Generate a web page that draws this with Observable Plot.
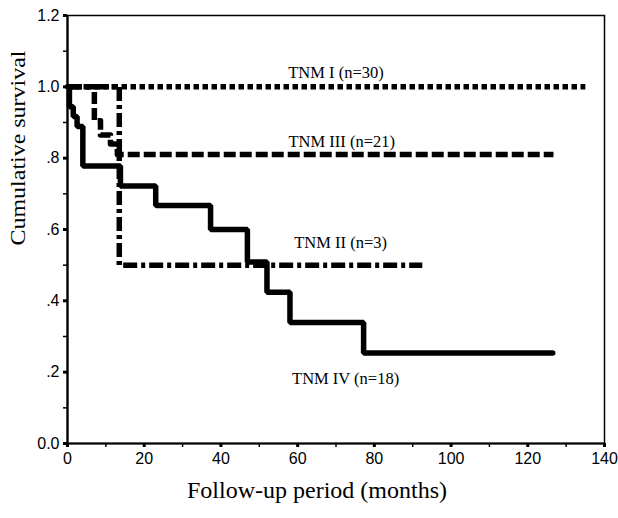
<!DOCTYPE html>
<html>
<head>
<meta charset="utf-8">
<script src="https://cdn.jsdelivr.net/npm/d3@7"></script>
<script src="https://cdn.jsdelivr.net/npm/@observablehq/plot@0.6"></script>
<style>
  html, body { margin: 0; padding: 0; background: #fff; }
</style>
</head>
<body>
<div id="chart"></div>
<script>
// Kaplan-Meier curves (time in months, cumulative survival)
const tnm1Time = [0, 135];
const tnm1Surv = [1.0, 1.0];
const tnm2Time = [0, 13.5, 92.5];
const tnm2Surv = [1.0, 0.5, 0.5];
const tnm3Time = [0, 7, 8.6, 11.2, 13, 126.7];
const tnm3Surv = [1.0, 0.905, 0.865, 0.84, 0.81, 0.81];
const tnm4Time = [0, 0.5, 1.5, 2.5, 4, 13.8, 23, 37.3, 46.9, 52, 58, 77.2, 126.5];
const tnm4Surv = [1.0, 0.944, 0.917, 0.889, 0.778, 0.722, 0.667, 0.6, 0.509, 0.424, 0.339, 0.254, 0.254];

// Curve labels
const labelText = ["TNM I (n=30)", "TNM III (n=21)", "TNM II (n=3)", "TNM IV (n=18)"];
const labelX = [70, 71.5, 71.2, 72.5];
const labelY = [1.04, 0.847, 0.563, 0.182];

// Axis ticks
const xTicks = [0, 20, 40, 60, 80, 100, 120, 140];
const xMinor = [10, 30, 50, 70, 90, 110, 130];
const yTicks = [0, 0.2, 0.4, 0.6, 0.8, 1.0, 1.2];
const yTickLabels = ["0.0", ".2", ".4", ".6", ".8", "1.0", "1.2"];
const yMinor = [0.1, 0.3, 0.5, 0.7, 0.9, 1.1];

const toRows = (t, s) => t.map((v, i) => ({t: v, s: s[i]}));
const labels = labelText.map((txt, i) => ({txt, x: labelX[i], y: labelY[i]}));

const sans = "Liberation Sans, Arial, sans-serif";
const serif = "Liberation Serif, Times New Roman, serif";

const chart = Plot.plot({
  width: 618,
  height: 518,
  marginLeft: 67,
  marginRight: 14,
  marginTop: 15,
  marginBottom: 75,
  x: {domain: [0, 140]},
  y: {domain: [0, 1.2]},
  style: {background: "#fff", color: "#000"},
  marks: [
    Plot.frame({stroke: "#000", strokeWidth: 1.5}),
    Plot.ruleX([0], {stroke: "#000", strokeWidth: 2.2}),
    Plot.ruleY([0], {stroke: "#000", strokeWidth: 2.2}),
    Plot.axisY(yTicks, {
      tickSize: 4, tickPadding: 4, strokeWidth: 3,
      tickFormat: (d) => yTickLabels[yTicks.indexOf(d)],
      fontSize: 16, fontFamily: sans, label: null
    }),
    Plot.axisY(yMinor, {tickSize: 4, tickFormat: () => "", strokeWidth: 1.5, label: null}),
    Plot.axisX(xTicks, {
      tickSize: 4, tickPadding: 5, strokeWidth: 3,
      tickFormat: d => String(d),
      fontSize: 16, fontFamily: sans, label: null
    }),
    Plot.axisX(xMinor, {tickSize: 4, tickFormat: () => "", strokeWidth: 1.5, label: null}),
    Plot.line(toRows(tnm4Time, tnm4Surv), {
      x: "t", y: "s", curve: "step-after", stroke: "#000", strokeWidth: 5.5,
      strokeLinejoin: "miter", strokeLinecap: "round"
    }),
    Plot.line(toRows(tnm3Time, tnm3Surv), {
      x: "t", y: "s", curve: "step-after", stroke: "#000", strokeWidth: 5.5,
      strokeDasharray: "12,4", strokeLinecap: "butt"
    }),
    Plot.line(toRows(tnm1Time, tnm1Surv), {
      x: "t", y: "s", curve: "step-after", stroke: "#000", strokeWidth: 5.5,
      strokeDasharray: "5.5,3.5", strokeLinecap: "butt"
    }),
    Plot.line(toRows(tnm2Time, tnm2Surv), {
      x: "t", y: "s", curve: "step-after", stroke: "#000", strokeWidth: 5.5,
      strokeDasharray: "14,4,4,4", strokeLinecap: "butt"
    }),
    Plot.text(labels, {
      x: "x", y: "y", text: "txt", fontFamily: serif, fontSize: 16.5, fill: "#000"
    }),
    Plot.text(["Cumulative survival"], {
      frameAnchor: "left", dx: -50, dy: 16, rotate: -90,
      fontFamily: serif, fontSize: 22, fill: "#000", className: "ylab"
    }),
    Plot.text(["Follow-up period (months)"], {
      frameAnchor: "bottom", dy: 54, dx: -19,
      fontFamily: serif, fontSize: 24, fill: "#000"
    })
  ]
});
// slightly condense the y-axis title to match the original's proportions
chart.querySelectorAll(".ylab text").forEach(t => {
  t.setAttribute("textLength", "195");
  t.setAttribute("lengthAdjust", "spacingAndGlyphs");
});
document.getElementById("chart").appendChild(chart);
</script>
</body>
</html>
